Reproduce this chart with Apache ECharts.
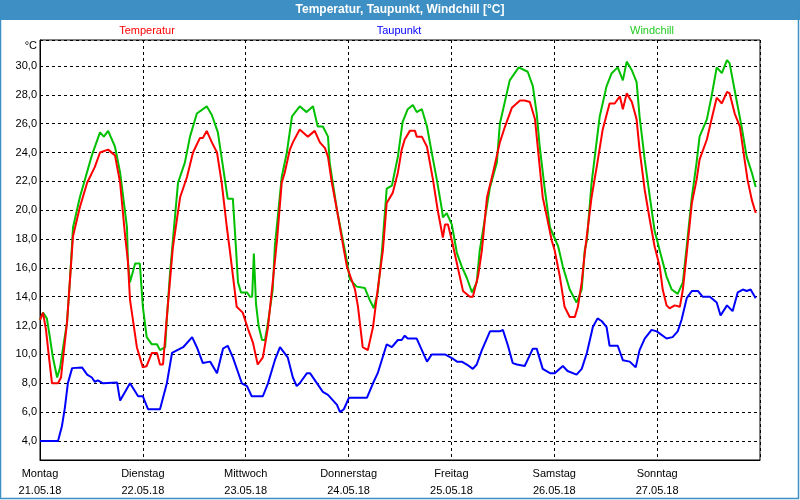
<!DOCTYPE html>
<html>
<head>
<meta charset="utf-8">
<script src="https://cdn.jsdelivr.net/npm/echarts@6/dist/echarts.min.js"></script>
<style>html,body{margin:0;padding:0;background:#fff}#c{width:800px;height:500px}</style>
</head>
<body>
<div id="c"></div>
<script>
// Day labels for the x axis (one per day boundary, hours 0,24,...)
const dayNames = ['Montag', 'Dienstag', 'Mittwoch', 'Donnerstag', 'Freitag', 'Samstag', 'Sonntag'];
const dayDates = ['21.05.18', '22.05.18', '23.05.18', '24.05.18', '25.05.18', '26.05.18', '27.05.18'];
const seriesNames = ['Temperatur', 'Taupunkt', 'Windchill'];

// [hours since Monday 00:00, °C]
const temperatur = [
[0,12.4],[0.7,12.9],[1.4,11.7],[2.1,9.8],[2.8,8.0],[4.2,8.0],[4.9,8.4],[5.4,9.8],[6.3,12.2],[7.0,15.2],
[7.7,18.2],[9.3,20.2],[11.0,21.9],[12.8,23.0],[14.0,24.0],[15.9,24.2],[17.5,23.8],[18.7,21.9],[19.8,18.4],[20.5,16.5],
[21.0,13.8],[22.6,10.5],[24.0,9.1],[24.9,9.2],[26.1,10.1],[27.3,10.1],[28.0,9.3],[28.7,9.3],[29.6,12.6],[30.3,15.0],
[31.0,17.4],[32.7,20.9],[34.3,22.3],[35.7,24.0],[37.3,25.0],[38.0,25.0],[38.9,25.5],[40.1,24.7],[41.3,24.0],[42.4,21.9],
[43.6,18.8],[44.3,17.2],[45.9,13.3],[47.3,12.9],[48.5,11.8],[49.7,10.8],[50.8,9.3],[52.0,9.8],[53.2,11.9],[54.3,15.0],
[55.3,17.9],[56.4,21.9],[57.1,22.6],[58.3,24.2],[59.0,24.7],[60.6,25.6],[62.5,25.1],[64.1,25.5],[65.3,24.7],[66.5,24.3],
[67.2,23.7],[68.1,21.9],[69.3,20.0],[70.4,18.1],[71.6,16.1],[73.5,14.5],[74.2,13.3],[75.3,10.5],[76.5,10.3],[77.7,11.9],
[78.8,14.5],[80.0,17.2],[80.9,20.5],[82.3,21.2],[83.5,22.6],[84.4,24.2],[85.1,24.9],[86.3,25.5],[87.5,25.5],[87.9,25.1],
[89.1,25.1],[90.3,24.4],[91.7,22.1],[92.8,20.0],[94.0,18.1],[94.5,19.0],[95.2,19.0],[96.1,17.9],[97.5,16.0],[98.7,14.4],
[100.3,14.0],[101.0,14.0],[102.2,15.4],[103.1,17.2],[104.3,20.9],[105.7,22.6],[107.3,24.7],[108.5,25.8],[110.1,27.1],[112.0,27.6],
[113.1,27.6],[114.3,27.5],[115.5,26.3],[116.6,23.0],[117.3,20.9],[118.3,19.5],[119.4,17.9],[120.1,17.2],[121.3,15.4],[122.4,13.3],
[123.6,12.6],[124.8,12.6],[125.5,13.3],[126.4,15.0],[127.1,17.0],[128.7,20.9],[129.9,23.0],[131.3,25.6],[132.9,27.4],[134.1,27.4],
[135.3,27.9],[136.0,27.0],[136.9,28.1],[138.1,27.5],[139.2,26.3],[139.9,24.2],[141.1,21.4],[142.3,19.3],[143.4,17.5],[144.6,16.1],
[145.3,14.5],[146.2,13.4],[146.9,13.2],[148.1,13.4],[149.3,13.3],[150.0,14.5],[150.9,17.0],[152.1,20.5],[153.2,22.1],[153.9,23.5],
[155.6,24.9],[156.7,26.3],[157.9,27.8],[159.1,27.4],[160.3,28.2],[160.9,28.1],[162.1,26.7],[163.3,25.8],[164.4,23.5],[165.1,22.1],
[166.1,20.7],[167.0,19.8]
];

const taupunkt = [
[0,4.0],[4.2,4.0],[5.1,5.0],[5.8,6.3],[6.5,8.0],[7.5,9.05],[9.8,9.1],[11.0,8.6],[12.1,8.4],[12.8,8.1],
[13.5,8.2],[14.7,8.0],[18.0,8.05],[18.4,7.3],[18.7,6.8],[21.0,8.0],[22.9,7.1],[24.0,7.1],[25.2,6.2],[28.0,6.2],
[29.6,8.0],[30.8,10.1],[33.4,10.5],[35.5,11.2],[36.6,10.5],[38.0,9.4],[39.7,9.5],[41.3,8.7],[42.7,10.4],[43.8,10.6],
[45.0,9.8],[47.1,8.0],[48.3,7.8],[49.4,7.1],[52.0,7.1],[53.2,8.0],[54.8,9.6],[56.0,10.5],[57.8,9.8],[59.0,8.4],
[59.9,7.8],[60.6,8.0],[62.3,8.7],[63.0,8.7],[66.0,7.4],[67.2,7.2],[69.3,6.5],[70.0,6.0],[70.9,6.2],[72.1,7.0],
[76.3,7.0],[77.7,8.0],[78.8,8.7],[80.9,10.7],[82.1,10.5],[83.5,11.0],[84.4,11.0],[85.1,11.3],[85.8,11.1],[87.9,11.1],
[89.1,10.3],[90.3,9.5],[91.4,10.0],[94.5,10.0],[96.1,9.75],[97.3,9.5],[98.4,9.5],[99.6,9.3],[101.0,9.0],[101.9,9.3],
[103.1,10.3],[105.0,11.6],[107.3,11.6],[108.0,11.7],[109.2,10.6],[110.3,9.4],[111.3,9.3],[113.1,9.2],[115.0,10.4],[115.9,10.4],
[117.3,9.0],[119.0,8.7],[120.1,8.7],[122.0,9.2],[123.1,8.85],[125.2,8.6],[126.4,9.0],[127.6,10.1],[129.0,11.9],[130.1,12.5],
[131.1,12.3],[132.2,11.9],[132.9,10.6],[134.8,10.6],[136.0,9.6],[137.6,9.5],[139.0,9.1],[139.9,10.3],[141.1,11.1],[142.7,11.7],
[143.9,11.6],[146.2,11.1],[147.6,11.2],[148.8,11.6],[149.7,12.4],[150.9,13.9],[152.1,14.4],[153.5,14.4],[154.6,14.0],[156.3,14.0],
[157.9,13.6],[158.8,12.7],[160.3,13.4],[161.6,13.0],[162.8,14.3],[164.0,14.5],[164.9,14.4],[165.8,14.5],[167.0,13.9]
];

const windchill = [
[0,12.4],[0.7,12.9],[1.6,12.5],[2.3,11.2],[3.0,9.8],[4.0,8.4],[4.7,9.1],[5.4,10.5],[6.3,12.2],[7.0,15.2],
[7.7,18.8],[9.3,20.9],[12.1,23.8],[14.0,25.4],[14.9,25.1],[15.9,25.5],[17.5,24.4],[18.7,22.6],[20.3,18.8],[20.5,16.5],
[21.0,15.0],[22.2,16.3],[23.3,16.3],[24.0,13.3],[24.9,11.2],[26.1,10.7],[27.3,10.7],[28.0,10.3],[29.2,10.5],[29.6,12.5],
[30.3,15.5],[31.0,17.9],[32.2,21.9],[33.8,23.3],[35.0,25.1],[36.6,26.7],[38.9,27.2],[40.1,26.6],[41.5,25.4],[42.7,23.0],
[43.8,20.8],[45.0,20.8],[45.7,17.5],[46.2,15.0],[46.9,14.3],[48.3,14.3],[49.0,14.0],[49.5,14.0],[49.9,17.0],[50.4,13.5],
[51.0,12.0],[51.8,11.0],[52.5,11.0],[53.2,12.2],[54.3,14.5],[54.8,17.5],[56.4,22.3],[57.6,24.0],[58.8,26.5],[60.6,27.2],
[62.2,26.8],[63.7,27.2],[64.8,25.8],[66.0,25.8],[67.2,25.1],[67.6,23.3],[69.3,20.0],[71.6,16.5],[72.3,15.2],[73.9,14.7],
[75.8,14.6],[76.9,13.8],[77.9,13.2],[78.8,14.3],[79.8,17.2],[80.9,21.5],[82.1,21.7],[83.5,23.7],[84.6,26.1],[85.8,27.0],
[87.0,27.3],[87.9,26.8],[89.1,27.0],[90.3,25.8],[91.4,24.0],[92.6,22.1],[93.8,20.0],[94.0,19.5],[94.9,19.8],[96.1,19.0],
[97.3,17.0],[98.4,16.1],[99.6,15.3],[100.8,14.3],[101.9,15.0],[102.6,17.2],[105.0,21.6],[106.6,23.3],[107.3,26.0],[109.6,29.0],
[111.7,29.9],[113.8,29.6],[115.0,28.6],[115.9,26.7],[116.6,24.4],[117.8,21.4],[119.0,18.8],[120.9,17.5],[122.0,16.1],[123.6,14.5],
[125.2,13.6],[126.4,14.5],[127.1,17.2],[127.6,17.9],[128.7,21.9],[130.6,26.5],[132.2,28.6],[133.4,29.5],[134.8,29.9],[136.0,29.0],
[136.9,30.3],[138.1,29.7],[139.2,28.9],[139.9,26.5],[141.1,23.5],[142.3,20.9],[143.4,18.6],[144.6,17.2],[146.2,15.4],[147.4,14.5],
[148.8,14.2],[150.0,15.0],[150.9,17.5],[152.1,20.9],[153.2,23.3],[153.9,25.1],[155.6,26.3],[156.7,27.9],[157.9,29.9],[159.1,29.5],
[160.3,30.4],[160.9,30.2],[162.1,28.3],[163.7,25.8],[164.9,23.7],[166.1,22.6],[167.0,21.6]
];

const colors = { temp: '#ff0000', dew: '#0000ff', wind: '#00c000' };
const FONT = 'Liberation Sans';

const chart = echarts.init(document.getElementById('c'), null, { renderer: 'canvas' });
chart.setOption({
  animation: false,
  backgroundColor: '#ffffff',
  grid: { left: 40, right: 40, top: 40, bottom: 40, show: true, borderColor: '#000', borderWidth: 1, backgroundColor: 'transparent' },
  graphic: [
    { type: 'rect', shape: { x: 0, y: 0, width: 800, height: 20 }, style: { fill: '#3d8fc4' }, z: 0 },
    { type: 'rect', shape: { x: 0.5, y: 0.5, width: 798, height: 498 }, style: { fill: 'none', stroke: '#3d8fc4', lineWidth: 1.5 }, z: 0 },
    { type: 'text', x: 400, y: 10, style: { text: 'Temperatur, Taupunkt, Windchill [°C]', fill: '#fff', font: 'bold 12px ' + FONT, textAlign: 'center', textVerticalAlign: 'middle' }, z: 1 },
    { type: 'text', x: 147, y: 31, style: { text: seriesNames[0], fill: '#ff0000', font: '11px ' + FONT, textAlign: 'center', textVerticalAlign: 'middle' } },
    { type: 'text', x: 399, y: 31, style: { text: seriesNames[1], fill: '#0000ff', font: '11px ' + FONT, textAlign: 'center', textVerticalAlign: 'middle' } },
    { type: 'text', x: 652, y: 31, style: { text: seriesNames[2], fill: '#22cc22', font: '11px ' + FONT, textAlign: 'center', textVerticalAlign: 'middle' } },
    { type: 'text', x: 37, y: 46, style: { text: '°C', fill: '#000', font: '11px ' + FONT, textAlign: 'right', textVerticalAlign: 'middle' } }
  ],
  xAxis: {
    type: 'value', min: 0, max: 168, interval: 24,
    axisLine: { show: true, lineStyle: { color: '#000', width: 1 } },
    axisTick: { show: false },
    splitLine: { show: true, lineStyle: { color: '#000', type: [3, 3], width: 1 } },
    axisLabel: {
      color: '#000', fontFamily: FONT, fontSize: 11, lineHeight: 17, margin: 5,
      formatter: function (v) {
        const i = Math.round(v / 24);
        return i < dayNames.length ? dayNames[i] + '\n' + dayDates[i] : '';
      }
    }
  },
  yAxis: {
    type: 'value', min: 2.68, max: 31.8, minInterval: 2, maxInterval: 2,
    axisLine: { show: true, lineStyle: { color: '#000', width: 1 } },
    axisTick: { show: false },
    splitLine: { show: true, lineStyle: { color: '#000', type: [3, 3], width: 1 } },
    axisLabel: {
      color: '#000', fontFamily: FONT, fontSize: 11, margin: 3,
      formatter: function (v) {
        const r = Math.round(v);
        if (Math.abs(v - r) > 1e-6 || r % 2 !== 0) return '';
        return r.toFixed(1).replace('.', ',');
      }
    }
  },
  series: [
    { name: seriesNames[2], type: 'line', data: windchill, showSymbol: false, lineStyle: { color: colors.wind, width: 2 }, itemStyle: { color: colors.wind }, z: 2 },
    { name: seriesNames[0], type: 'line', data: temperatur, showSymbol: false, lineStyle: { color: colors.temp, width: 2 }, itemStyle: { color: colors.temp }, z: 3 },
    { name: seriesNames[1], type: 'line', data: taupunkt, showSymbol: false, lineStyle: { color: colors.dew, width: 2 }, itemStyle: { color: colors.dew }, z: 4 }
  ]
});
</script>
</body>
</html>
